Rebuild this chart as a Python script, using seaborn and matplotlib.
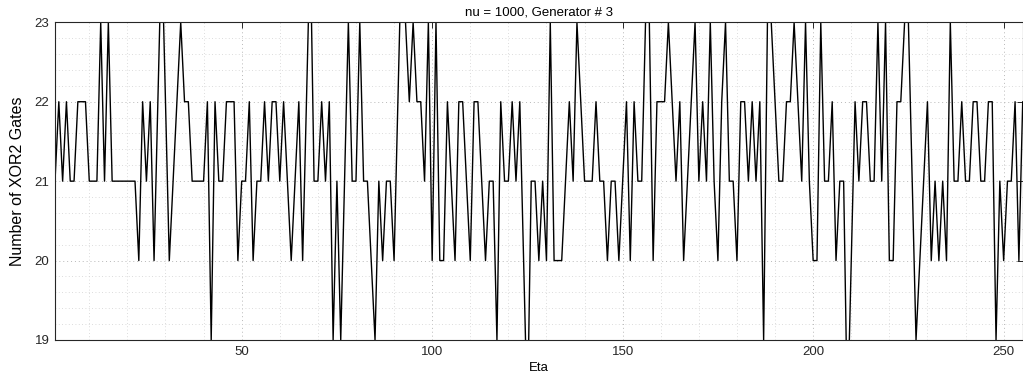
import numpy as np
import pandas as pd
import matplotlib
matplotlib.use("Agg")
import matplotlib.pyplot as plt
import seaborn as sns
from matplotlib.ticker import MultipleLocator

title = "nu = 1000, Generator # 3"
x_label = "Eta"
y_label = "Number of XOR2 Gates"

gates = [
    21, 22, 21, 22, 21, 21, 22, 22, 22, 21, 21, 21, 23, 21, 23, 21, 21, 21, 21, 21,
    21, 21, 20, 22, 21, 22, 20, 22, 24, 22, 20, 21, 22, 23, 22, 22, 21, 21, 21, 21,
    22, 19, 22, 21, 21, 22, 22, 22, 20, 21, 21, 22, 20, 21, 21, 22, 21, 22, 22, 21,
    22, 21, 20, 21, 22, 20, 22, 24, 21, 21, 22, 21, 22, 19, 21, 19, 21, 23, 21, 21,
    23, 21, 21, 20, 19, 21, 20, 21, 21, 20, 22, 24, 23, 22, 23, 22, 22, 21, 23, 20,
    23, 20, 20, 22, 21, 20, 22, 22, 21, 20, 22, 22, 21, 20, 21, 21, 19, 22, 21, 21,
    22, 21, 22, 20, 18, 21, 21, 20, 21, 20, 23, 20, 20, 20, 21, 22, 21, 23, 22, 21,
    21, 21, 22, 21, 21, 20, 21, 21, 20, 21, 22, 20, 22, 21, 21, 23, 23, 20, 22, 22,
    22, 23, 22, 21, 22, 20, 21, 22, 23, 21, 22, 21, 23, 21, 20, 22, 23, 21, 21, 20,
    22, 22, 21, 22, 21, 22, 19, 23, 23, 22, 21, 21, 22, 22, 23, 22, 21, 23, 21, 20,
    20, 23, 21, 21, 22, 20, 21, 21, 18, 20, 22, 21, 22, 22, 21, 21, 23, 21, 23, 20,
    20, 22, 22, 23, 23, 21, 19, 20, 21, 22, 20, 21, 20, 21, 20, 23, 21, 21, 22, 21,
    21, 22, 22, 21, 21, 22, 22, 19, 21, 20, 21, 21, 22, 20, 22,
]
eta = list(range(1, len(gates) + 1))
x_ticks = [50, 100, 150, 200, 250]
y_ticks = [19, 20, 21, 22, 23]

df = pd.DataFrame({"Eta": eta, "Gates": gates})

sns.set_theme(style="white")
plt.rcParams["font.family"] = ["Liberation Sans", "DejaVu Sans"]

fig = plt.figure(figsize=(10.23, 3.85), dpi=100)
ax = fig.add_axes([55 / 1023, 1 - 340 / 385, (1022.7 - 55) / 1023, (340 - 22.3) / 385])

sns.lineplot(data=df, x="Eta", y="Gates", ax=ax, color="black", linewidth=1.0,
             estimator=None, sort=False)

ax.set_xlim(1, 255)
ax.set_ylim(19, 23)
ax.set_xticks(x_ticks)
ax.set_yticks(y_ticks)
ax.xaxis.set_minor_locator(MultipleLocator(10))
ax.yaxis.set_minor_locator(MultipleLocator(0.2))
ax.grid(which="major", linestyle=(0, (1, 3)), color="#b8b8b8", linewidth=0.7)
ax.grid(which="minor", linestyle=(0, (1, 3)), color="#d0d0d0", linewidth=0.6)
ax.set_axisbelow(True)
ax.tick_params(which="major", direction="in", length=4, width=0.7, top=True, right=True,
               labelsize=9.5, colors="#262626", pad=4)
ax.tick_params(which="minor", length=0, top=True, right=True)
for s in ax.spines.values():
    s.set_color("#262626")
    s.set_linewidth(0.8)

ax.set_title(title, fontsize=9.5, pad=5, color="black")
ax.set_xlabel(x_label, fontsize=9.5, labelpad=3, color="black")
ax.set_ylabel(y_label, fontsize=11.5, labelpad=7, color="black")

fig.savefig("out.png", dpi=100)
